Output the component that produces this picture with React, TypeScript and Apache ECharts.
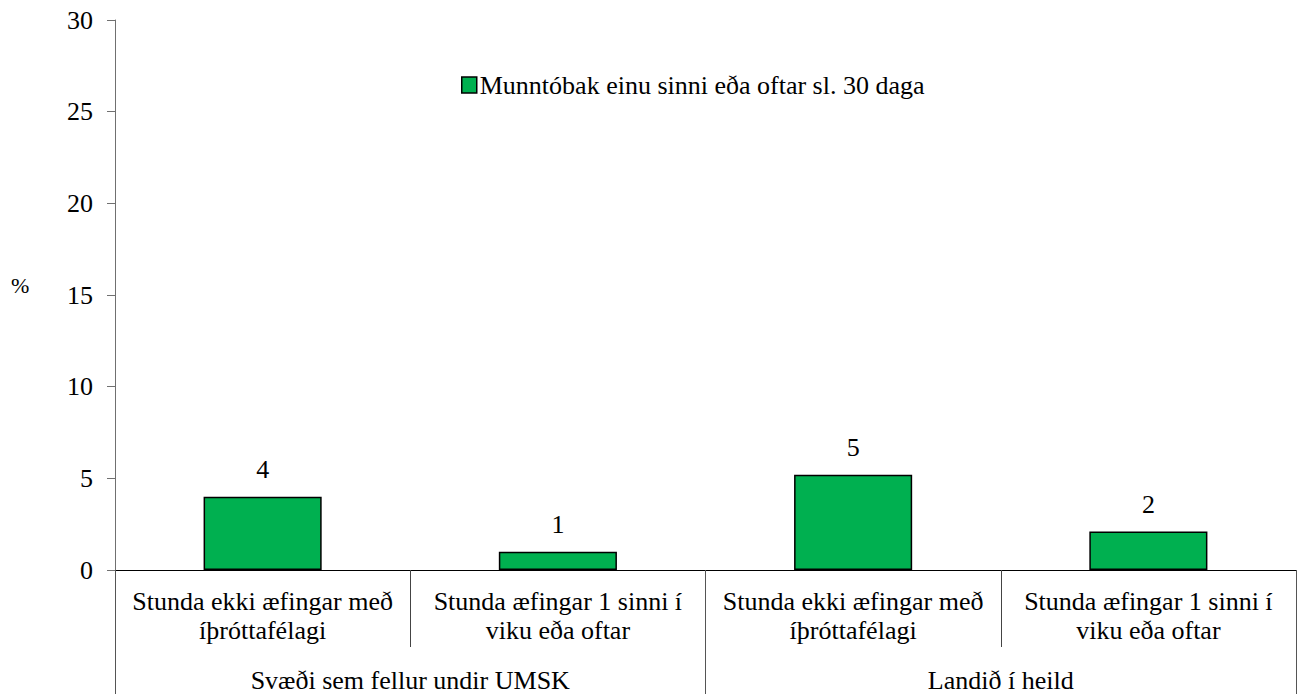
import React, { useEffect, useRef } from "react";
import * as echarts from "echarts";

const categories = [
  "Stunda ekki æfingar með\níþróttafélagi",
  "Stunda æfingar 1 sinni í\nviku eða oftar",
  "Stunda ekki æfingar með\níþróttafélagi",
  "Stunda æfingar 1 sinni í\nviku eða oftar",
];
const groups = ["Svæði sem fellur undir UMSK", "Landið í heild"];
const seriesName = "Munntóbak einu sinni eða oftar sl. 30 daga";
const values = [4.0, 1.0, 5.2, 2.1];
const yTicks = { min: 0, max: 30, interval: 5 };

const FONT = "Liberation Serif";
const FS = 26;

export default function App() {
  const ref = useRef<HTMLDivElement>(null);
  useEffect(() => {
    document.body.style.margin = "0";
    const chart = echarts.init(ref.current!, null, { renderer: "svg" });
    chart.setOption({
      animation: false,
      textStyle: { fontFamily: FONT, color: "#000" },
      grid: { left: 115, right: 5, top: 20, bottom: 124 },
      legend: {
        left: 456,
        top: 67,
        itemWidth: 15,
        itemHeight: 16,
        icon: "rect",
        textStyle: { fontFamily: FONT, fontSize: FS, color: "#000", padding: [0, 0, 0, -2] },
        itemStyle: { borderColor: "#000", borderWidth: 1.5 },
        data: [seriesName],
      },
      graphic: [
        {
          type: "text",
          left: 11,
          top: 274,
          style: { text: "%", fontFamily: FONT, fontSize: 22, fill: "#000" },
        },
      ],
      yAxis: {
        type: "value",
        min: yTicks.min,
        max: yTicks.max,
        interval: yTicks.interval,
        splitLine: { show: false },
        axisLine: { show: true, lineStyle: { color: "#707070", width: 1 } },
        axisTick: { show: true, length: 8, lineStyle: { color: "#707070" } },
        axisLabel: { fontFamily: FONT, fontSize: FS, color: "#000", margin: 22 },
      },
      xAxis: [
        {
          type: "category",
          data: categories,
          position: "bottom",
          axisLine: { show: true, lineStyle: { color: "#000", width: 1 } },
          axisTick: { show: true, interval: 0, length: 77, lineStyle: { color: "#444" } },
          axisLabel: {
            interval: 0,
            fontFamily: FONT,
            fontSize: FS,
            lineHeight: 29,
            color: "#000",
            margin: 17,
          },
        },
        {
          type: "category",
          data: groups,
          position: "bottom",
          axisLine: { show: false },
          axisTick: { show: true, interval: 0, length: 124, lineStyle: { color: "#555" } },
          axisLabel: {
            interval: 0,
            fontFamily: FONT,
            fontSize: FS,
            lineHeight: 29,
            color: "#000",
            margin: 96,
          },
        },
      ],
      series: [
        {
          name: seriesName,
          type: "bar",
          xAxisIndex: 0,
          data: values,
          barWidth: "40%",
          itemStyle: { color: "#00B050", borderColor: "#000", borderWidth: 1.5 },
          label: {
            show: true,
            position: "top",
            distance: 14,
            fontFamily: FONT,
            fontSize: FS,
            color: "#000",
            formatter: (p: any) => String(Math.round(p.value)),
          },
        },
      ],
    });
    return () => chart.dispose();
  }, []);
  return <div ref={ref} style={{ width: 1301, height: 695 }} />;
}
